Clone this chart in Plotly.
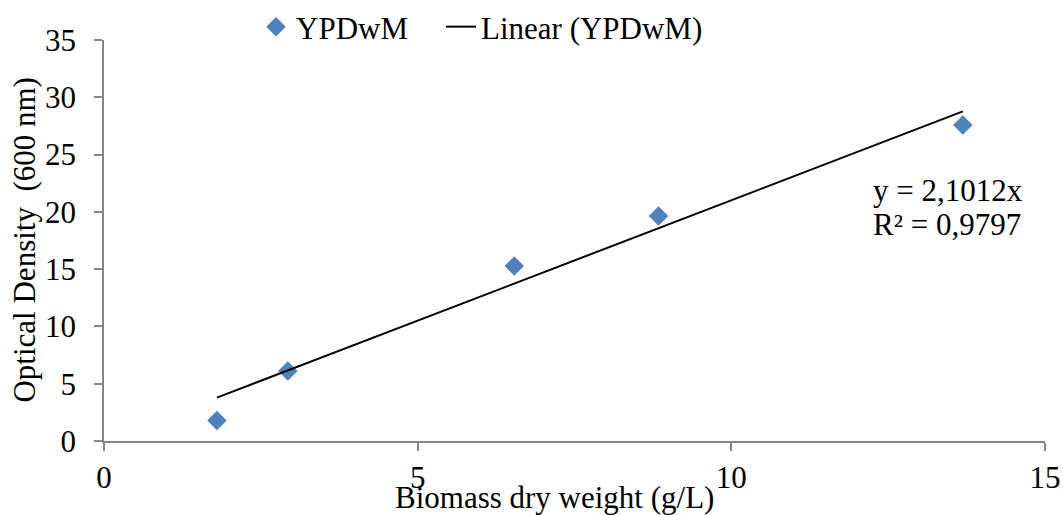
import plotly.graph_objects as go

# Biomass dry weight (g/L) vs optical density at 600 nm, YPDwM medium
biomass = [1.80, 2.93, 6.54, 8.84, 13.69]
optical_density = [1.80, 6.11, 15.27, 19.64, 27.58]

# Linear trendline through the origin
slope = 2.1012
r_squared = 0.9797
trend_x = [min(biomass), max(biomass)]
trend_y = [slope * x for x in trend_x]

x_ticks = [0, 5, 10, 15]
y_ticks = [0, 5, 10, 15, 20, 25, 30, 35]

FONT = "Liberation Serif, Times New Roman, serif"
FS = 31
AXIS_GREY = "#868686"
BLUE = "#4F81BD"

fig = go.Figure()
fig.add_trace(go.Scatter(
    x=biomass, y=optical_density, mode="markers", name="YPDwM",
    marker=dict(symbol="diamond", size=15, color=BLUE, line=dict(width=0)),
    legend="legend",
))
fig.add_trace(go.Scatter(
    x=trend_x, y=trend_y, mode="lines", name="Linear (YPDwM)",
    line=dict(color="black", width=2), legend="legend2",
))

legend_style = dict(
    orientation="h", xanchor="left", yanchor="middle",
    y=(441 - 27) / 401,
    font=dict(family=FONT, size=FS, color="black"),
    bgcolor="rgba(0,0,0,0)",
)

fig.update_layout(
    width=1063, height=515,
    margin=dict(l=104, r=18, t=40, b=74, autoexpand=False),
    paper_bgcolor="white", plot_bgcolor="white",
    font=dict(family=FONT, size=FS, color="black"),
    showlegend=True,
    legend=dict(x=(256 - 104) / 941, **legend_style),
    legend2=dict(x=(441 - 104) / 941, **legend_style),
    xaxis=dict(
        range=[0, 15], tickvals=x_ticks, ticktext=[str(v) for v in x_ticks],
        showgrid=False, zeroline=False, showline=True, linecolor=AXIS_GREY,
        linewidth=1.5, ticks="outside", ticklen=8, tickcolor=AXIS_GREY,
        tickwidth=1.5, tickfont=dict(family=FONT, size=FS, color="black"),
    ),
    yaxis=dict(
        range=[0, 35], tickvals=y_ticks, ticktext=[str(v) for v in y_ticks],
        showgrid=False, zeroline=False, showline=True, linecolor=AXIS_GREY,
        linewidth=1.5, ticks="outside", ticklen=8, tickcolor=AXIS_GREY,
        tickwidth=1.5, ticklabelstandoff=12,
        tickfont=dict(family=FONT, size=FS, color="black"),
    ),
)

# Axis titles
fig.add_annotation(
    text="Biomass dry weight (g/L)", xref="paper", yref="paper",
    x=(554 - 104) / 941, y=-0.14, xanchor="center", yanchor="middle",
    showarrow=False, font=dict(family=FONT, size=FS, color="black"),
)
fig.add_annotation(
    text="Optical Density  (600 nm)", xref="paper", yref="paper",
    x=-0.085, y=0.5, xanchor="center", yanchor="middle", textangle=-90,
    showarrow=False, font=dict(family=FONT, size=FS, color="black"),
)

# Trendline equation
fig.add_annotation(
    text=f"y = {str(slope).replace('.', ',')}x", xref="x", yref="y",
    x=12.22, y=21.9, xanchor="left", yanchor="middle", showarrow=False,
    font=dict(family=FONT, size=FS, color="black"),
)
fig.add_annotation(
    text=f"R² = {str(r_squared).replace('.', ',')}", xref="x", yref="y",
    x=12.22, y=18.9, xanchor="left", yanchor="middle", showarrow=False,
    font=dict(family=FONT, size=FS, color="black"),
)

fig.write_html("out.html")
